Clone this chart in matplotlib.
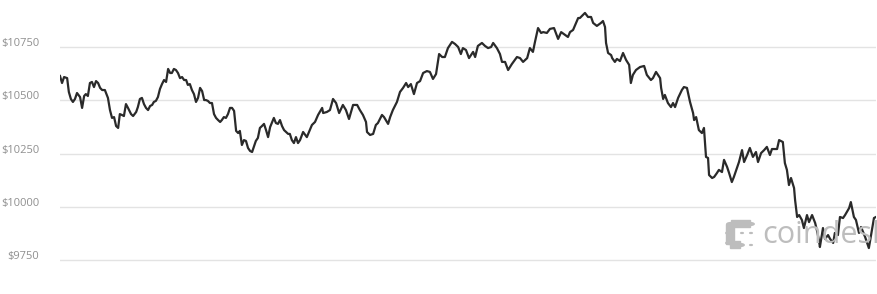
import matplotlib
matplotlib.use("Agg")
import matplotlib.pyplot as plt
from matplotlib.transforms import ScaledTranslation
from matplotlib.patches import Circle, Rectangle

# --- Data: 24h price trace (hours since start, USD) ---
hours = [
    0.00, 0.06, 0.12, 0.21, 0.26, 0.32, 0.38, 0.44, 0.50, 0.59, 0.65, 0.71, 0.76, 0.82, 0.88, 0.94,
    1.00, 1.06, 1.12, 1.18, 1.24, 1.32, 1.41, 1.47, 1.53, 1.59, 1.65, 1.71, 1.76, 1.82, 1.88, 1.94,
    2.00, 2.09, 2.15, 2.24, 2.29, 2.35, 2.41, 2.47, 2.53, 2.59, 2.65, 2.71, 2.76, 2.82, 2.88, 2.94,
    3.00, 3.06, 3.12, 3.18, 3.24, 3.29, 3.35, 3.41, 3.47, 3.53, 3.59, 3.65, 3.71, 3.76, 3.82, 3.88,
    3.94, 4.00, 4.06, 4.12, 4.18, 4.24, 4.29, 4.35, 4.41, 4.47, 4.53, 4.59, 4.65, 4.71, 4.76, 4.82,
    4.88, 4.94, 5.00, 5.06, 5.12, 5.18, 5.24, 5.29, 5.35, 5.41, 5.47, 5.53, 5.59, 5.65, 5.71, 5.76,
    5.82, 5.88, 5.94, 6.00, 6.06, 6.12, 6.18, 6.24, 6.29, 6.35, 6.41, 6.47, 6.53, 6.59, 6.65, 6.71,
    6.76, 6.82, 6.88, 6.94, 7.00, 7.06, 7.15, 7.26, 7.41, 7.50, 7.59, 7.71, 7.74, 7.85, 7.94, 8.03,
    8.12, 8.21, 8.32, 8.41, 8.50, 8.62, 8.74, 8.82, 8.91, 9.00, 9.03, 9.12, 9.21, 9.29, 9.35, 9.47,
    9.53, 9.65, 9.71, 9.79, 9.91, 10.00, 10.09, 10.18, 10.24, 10.32, 10.41, 10.50, 10.59, 10.68, 10.79, 10.88,
    10.97, 11.06, 11.15, 11.24, 11.32, 11.41, 11.53, 11.62, 11.71, 11.79, 11.85, 11.94, 12.03, 12.15, 12.21, 12.29,
    12.41, 12.50, 12.59, 12.68, 12.74, 12.85, 12.94, 13.00, 13.09, 13.18, 13.29, 13.44, 13.53, 13.62, 13.74, 13.82,
    13.91, 13.97, 14.06, 14.15, 14.21, 14.32, 14.41, 14.53, 14.65, 14.74, 14.82, 14.94, 15.00, 15.09, 15.24, 15.29,
    15.44, 15.53, 15.62, 15.68, 15.79, 15.91, 15.97, 16.03, 16.06, 16.12, 16.21, 16.24, 16.32, 16.38, 16.47, 16.56,
    16.65, 16.74, 16.79, 16.85, 16.94, 17.06, 17.18, 17.26, 17.38, 17.44, 17.53, 17.65, 17.68, 17.74, 17.79, 17.88,
    17.97, 18.03, 18.09, 18.18, 18.29, 18.35, 18.44, 18.53, 18.62, 18.65, 18.71, 18.79, 18.88, 18.94, 19.00, 19.06,
    19.09, 19.18, 19.24, 19.32, 19.38, 19.47, 19.53, 19.62, 19.68, 19.76, 19.82, 19.91, 19.97, 20.06, 20.12, 20.21,
    20.29, 20.38, 20.47, 20.53, 20.62, 20.71, 20.79, 20.88, 20.94, 21.09, 21.15, 21.26, 21.32, 21.38, 21.44, 21.50,
    21.59, 21.62, 21.68, 21.74, 21.82, 21.88, 21.97, 22.03, 22.12, 22.21, 22.26, 22.32, 22.35, 22.44, 22.50, 22.59,
    22.65, 22.74, 22.79, 22.88, 22.94, 23.03, 23.09, 23.21, 23.26, 23.35, 23.41, 23.50, 23.56, 23.68, 23.74, 23.79,
    23.88, 23.94, 24.00,
]
prices = [
    10614, 10581, 10609, 10604, 10539, 10506, 10492, 10506, 10534, 10515, 10464, 10520, 10529, 10520, 10581, 10586,
    10562, 10590, 10581, 10558, 10548, 10548, 10511, 10454, 10417, 10421, 10379, 10370, 10435, 10431, 10426, 10482,
    10464, 10435, 10426, 10445, 10468, 10506, 10511, 10482, 10464, 10454, 10473, 10478, 10492, 10497, 10515, 10553,
    10576, 10595, 10586, 10647, 10628, 10628, 10647, 10642, 10628, 10604, 10609, 10595, 10595, 10572, 10576, 10548,
    10529, 10492, 10511, 10558, 10543, 10501, 10501, 10497, 10487, 10487, 10435, 10417, 10407, 10398, 10407, 10421,
    10417, 10435, 10464, 10464, 10450, 10356, 10346, 10356, 10290, 10313, 10309, 10276, 10262, 10257, 10285, 10309,
    10323, 10370, 10379, 10389, 10360, 10327, 10374, 10398, 10417, 10393, 10389, 10407, 10379, 10360, 10351, 10342,
    10342, 10313, 10299, 10327, 10299, 10313, 10351, 10327, 10384, 10398, 10431, 10464, 10440, 10445, 10454, 10506,
    10487, 10440, 10478, 10454, 10412, 10478, 10478, 10454, 10431, 10398, 10351, 10337, 10342, 10384, 10393, 10431,
    10421, 10389, 10421, 10454, 10492, 10539, 10558, 10581, 10562, 10576, 10529, 10581, 10590, 10628, 10637, 10633,
    10600, 10623, 10717, 10703, 10703, 10745, 10774, 10764, 10750, 10717, 10745, 10736, 10698, 10727, 10703, 10755,
    10769, 10755, 10745, 10750, 10769, 10745, 10717, 10680, 10680, 10642, 10670, 10703, 10698, 10680, 10698, 10745,
    10727, 10774, 10839, 10816, 10820, 10816, 10835, 10839, 10788, 10820, 10811, 10797, 10820, 10830, 10886, 10886,
    10910, 10891, 10891, 10863, 10849, 10863, 10872, 10844, 10769, 10722, 10712, 10698, 10680, 10694, 10684, 10722,
    10689, 10666, 10581, 10619, 10642, 10656, 10661, 10619, 10595, 10604, 10633, 10604, 10558, 10506, 10525, 10487,
    10468, 10487, 10468, 10511, 10548, 10562, 10558, 10492, 10440, 10407, 10421, 10360, 10346, 10370, 10234, 10229,
    10149, 10135, 10140, 10158, 10173, 10163, 10220, 10187, 10158, 10116, 10140, 10182, 10210, 10266, 10210, 10243,
    10276, 10234, 10257, 10210, 10252, 10266, 10281, 10243, 10271, 10271, 10313, 10304, 10205, 10173, 10102, 10135,
    10088, 10032, 9952, 9961, 9938, 9900, 9961, 9928, 9961, 9924, 9891, 9844, 9811, 9900, 9849, 9867,
    9849, 9830, 9877, 9867, 9952, 9947, 9961, 9994, 10022, 9952, 9938, 9877, 9905, 9858, 9830, 9806,
    9891, 9947, 9952,
]
y_ticks = [9750, 10000, 10250, 10500, 10750]
y_labels = ["$9750", "$10000", "$10250", "$10500", "$10750"]

W, H, DPI = 877, 294, 100
GRID = "#e3e3e3"
LABEL = "#8f8f8f"
LINE = "#2a2a2a"
MARK = "#bdbdbd"

fig = plt.figure(figsize=(W / DPI, H / DPI), dpi=DPI)
ax = fig.add_axes([60 / W, 14 / H, 816 / W, 280 / H])
ax.set_xlim(0, 24)
ax.set_ylim(9656.1, 10970.7)

ax.plot(hours, prices, color=LINE, lw=1.6, zorder=3, solid_joinstyle="round")

ax.set_yticks(y_ticks)
ax.set_yticklabels(y_labels)
ax.set_xticks([])
ax.tick_params(axis="y", length=0, pad=15, labelsize=8, labelcolor=LABEL)
for lab in ax.get_yticklabels():
    lab.set_fontfamily("Open Sans")
    lab.set_transform(lab.get_transform() + ScaledTranslation(0, 0.05, fig.dpi_scale_trans))
ax.yaxis.grid(True, color=GRID, lw=1.0)
ax.set_axisbelow(True)
for s in ax.spines.values():
    s.set_visible(False)
ax.patch.set_alpha(0)

# --- coindesk watermark (figure pixel coordinates) ---
def px(x, y):
    return (x / W, 1 - y / H)

big = [(731, 224), (740, 223), (750, 224), (730, 233), (730, 243), (740, 245)]
for (cx, cy) in big:
    fig.patches.append(Circle(px(cx, cy), 4.2 / W, transform=fig.transFigure,
                              color=MARK, zorder=1))
for (x0, y0, w, h) in [(731, 220, 19, 7), (726, 224, 8, 20), (730, 241, 10, 7)]:
    fig.patches.append(Rectangle(px(x0, y0 + h), w / W, h / H, transform=fig.transFigure,
                                 color=MARK, zorder=1))
for (cx, cy) in [(742, 233), (751, 233), (751, 245)]:
    fig.patches.append(Circle(px(cx, cy), 1.3 / W, transform=fig.transFigure,
                              color=MARK, zorder=1))
fig.text(762 / W, 1 - 243 / H, "coindesk", fontsize=22, color=MARK,
         family="Open Sans", ha="left", va="baseline", zorder=1)

fig.savefig("out.png", dpi=DPI)
